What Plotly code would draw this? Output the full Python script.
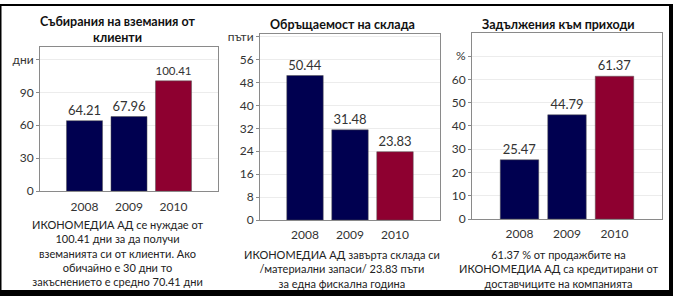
import plotly.graph_objects as go

years = ["2008", "2009", "2010"]
dso_days = [64.21, 67.96, 100.41]
inv_turnover = [50.44, 31.48, 23.83]
payables_pct = [25.47, 44.79, 61.37]

titles = ["<b>Събирания на вземания от<br>клиенти</b>",
          "<b>Обръщаемост на склада</b>",
          "<b>Задължения към приходи</b>"]
captions = [
    "ИКОНОМЕДИА АД се нуждае от<br>100.41 дни за да получи<br>вземанията си от клиенти. Ако<br>обичайно е 30 дни то<br>закъснението е средно 70.41 дни",
    "ИКОНОМЕДИА АД завърта склада си<br>/материални запаси/ 23.83 пъти<br>за една фискална година",
    "61.37 % от продажбите на<br>ИКОНОМЕДИА АД са кредитирани от<br>доставчиците на компанията",
]
tick_vals = [[0, 30, 60, 90, 120], [0, 8, 16, 24, 32, 40, 48, 56, 64], [0, 10, 20, 30, 40, 50, 60, 70]]
tick_text = [["0", "30", "60", "90", "дни"],
             ["0", "8", "16", "24", "32", "40", "48", "56", "пъти"],
             ["0", "10", "20", "30", "40", "50", "60", "%"]]
y_max = [131, 65, 80]

W, H = 673, 300
NAVY = "#000050"
RED = "#8E0030"
FONT = "Lato, 'Noto Sans', sans-serif"

# plot areas in pixels: (left, right, top, bottom)
areas = [(40, 218, 44, 194), (260, 440, 30, 224), (472, 662, 29, 223)]
centers = [117, 342, 558]
title_y = [26, 20, 20]
cap_top = [220, 251, 251]

series = [dso_days, inv_turnover, payables_pct]

fig = go.Figure()
for i, vals in enumerate(series):
    l, r, t, b = areas[i]
    xa = "x" if i == 0 else f"x{i+1}"
    ya = "y" if i == 0 else f"y{i+1}"
    colors = [NAVY, NAVY, RED]
    fig.add_trace(go.Bar(
        x=years, y=vals, xaxis=xa, yaxis=ya, width=0.81,
        marker=dict(color=colors, line=dict(color="#555555", width=0.5)),
        text=[f"{v:.2f}" for v in vals], textposition="outside",
        textfont=dict(size=13, color="#333333", family=FONT),
        cliponaxis=False, showlegend=False, hoverinfo="skip",
    ))
    key_x = "xaxis" if i == 0 else f"xaxis{i+1}"
    key_y = "yaxis" if i == 0 else f"yaxis{i+1}"
    fig.layout[key_x] = dict(
        domain=[l / W, r / W], anchor=ya, range=[-1, 3], type="category",
        showline=True, linecolor="#8a8a8a", linewidth=1, mirror=True,
        ticks="", showgrid=False, fixedrange=True, ticklabelstandoff=4,
        tickfont=dict(size=12, color="#333333", family=FONT),
    )
    fig.layout[key_y] = dict(
        domain=[1 - b / H, 1 - t / H], anchor=xa, range=[0, y_max[i]],
        tickvals=tick_vals[i], ticktext=tick_text[i],
        showline=True, linecolor="#8a8a8a", linewidth=1, mirror=True,
        ticks="outside", ticklen=3, tickcolor="#8a8a8a",
        showgrid=True, gridcolor="#ececec", gridwidth=1, zeroline=False,
        fixedrange=True,
        tickfont=dict(size=12, color="#333333", family=FONT),
    )
    cx = centers[i]
    fig.add_annotation(
        text=titles[i], xref="paper", yref="paper", x=cx / W, y=1 - title_y[i] / H,
        showarrow=False, xanchor="center", yanchor="middle",
        font=dict(size=12.5, color="#111111", family=FONT),
    )
    fig.add_annotation(
        text=captions[i], xref="paper", yref="paper", x=cx / W, y=1 - cap_top[i] / H,
        showarrow=False, xanchor="center", yanchor="top", align="center",
        font=dict(size=11, color="#222222", family=FONT),
    )

# outer frame
fig.add_shape(type="line", xref="paper", yref="paper", x0=0, x1=1, y0=1, y1=1,
              line=dict(color="#000000", width=2))
fig.add_shape(type="line", xref="paper", yref="paper", x0=0, x1=0, y0=0, y1=1,
              line=dict(color="#000000", width=3))
fig.add_shape(type="line", xref="paper", yref="paper", x0=0, x1=1, y0=0, y1=0,
              line=dict(color="#000000", width=6))
fig.add_shape(type="line", xref="paper", yref="paper", x0=1, x1=1, y0=0, y1=1,
              line=dict(color="#000000", width=8))

fig.update_layout(
    width=W, height=H, margin=dict(l=0, r=0, t=0, b=0),
    paper_bgcolor="white", plot_bgcolor="white",
    font=dict(family=FONT), bargap=0.19,
)

fig.write_html("out.html", config={"displayModeBar": False})
